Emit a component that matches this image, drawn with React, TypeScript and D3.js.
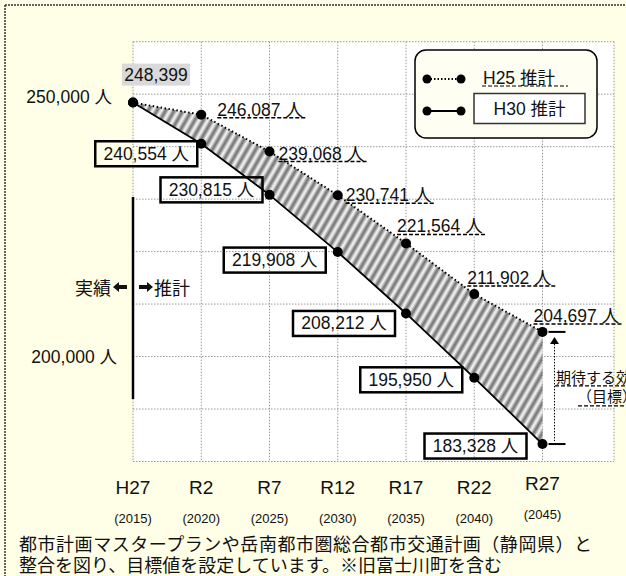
import React from "react";
import * as d3 from "d3";

const years = [2015, 2020, 2025, 2030, 2035, 2040, 2045];
const eraLabels = ["H27", "R2", "R7", "R12", "R17", "R22", "R27"];
const yearLabels = ["(2015)", "(2020)", "(2025)", "(2030)", "(2035)", "(2040)", "(2045)"];
const h25Values = [248399, 246087, 239068, 230741, 221564, 211902, 204697];
const h30Values = [248399, 240554, 230815, 219908, 208212, 195950, 183328];
const yTickValues = [250000, 200000];
const gridValues = [180000, 190000, 200000, 210000, 220000, 230000, 240000, 250000, 260000];
const legendLabels = ["H25 推計", "H30 推計"];
const footerLines = [
  "都市計画マスタープランや岳南都市圏総合都市交通計画（静岡県）と",
  "整合を図り、目標値を設定しています。※旧富士川町を含む",
];
const effectLabels = ["期待する効果", "（目標）"];

// label layout offsets (relative to point)
const h25LabelOffsets: ([number, number] | null)[] = [null, [16, -5], [9, 2], [8, 0], [-9, -17], [-7, -16], [-9, -16]];
const h30BoxOffsets: ([number, number] | null)[] = [null, [-4, 10], [-7, -5], [-12, 8], [-11, 10], [-12, 2], [-16, 2]];

const W = 626;
const H = 576;
const plotLeft = 133;
const plotRight = 614;
const plotTop = 41.7;
const plotBottom = 461.5;
const BG = "#FFFEE6";
const NUM_FONT = "'Liberation Sans', Arial, 'Noto Sans CJK JP', sans-serif";
const JP_FONT = "'Noto Sans CJK JP', 'Liberation Sans', sans-serif";

const fmt = d3.format(",");

export default function App() {
  const x = d3.scaleLinear().domain([2015, 2045]).range([133, 542.5]);
  const y = d3.scaleLinear().domain([180000, 260000]).range([plotBottom, plotTop]);

  const h25Pts = years.map((yr, i) => [x(yr), y(h25Values[i])] as [number, number]);
  const h30Pts = years.map((yr, i) => [x(yr), y(h30Values[i])] as [number, number]);
  const line = d3.line();
  const bandPath = line([...h25Pts, ...h30Pts.slice().reverse()]) + "Z";

  const underlineW = 88;

  const lastX = x(2045);
  const yTop = y(h25Values[6]);
  const yBot = y(h30Values[6]);

  return (
    <svg width={W} height={H} style={{ position: "absolute", left: 0, top: 0, display: "block" }}>
      <defs>
        <linearGradient id="stripeGrad" x1="0" x2="1" y1="0" y2="0">
          <stop offset="0" stopColor="#ffffff" />
          <stop offset="0.5" stopColor="#6a6a6a" />
          <stop offset="1" stopColor="#ffffff" />
        </linearGradient>
        <pattern id="stripes" width="7.5" height="7.5" patternUnits="userSpaceOnUse" patternTransform="rotate(30)">
          <rect width="7.5" height="7.5" fill="url(#stripeGrad)" />
        </pattern>
      </defs>
      <rect x={0} y={0} width={W} height={H} fill={BG} />
      <line x1={5} y1={5} x2={W} y2={5} stroke="#333" strokeWidth={1.5} strokeDasharray="2,1" />
      <line x1={5} y1={5} x2={5} y2={H} stroke="#333" strokeWidth={1.5} strokeDasharray="2,1" />

      {/* plot area */}
      <rect x={plotLeft} y={plotTop} width={plotRight - plotLeft} height={plotBottom - plotTop} fill="#fff" />
      {gridValues.map((v) => (
        <line key={"h" + v} x1={plotLeft} x2={plotRight} y1={y(v)} y2={y(v)} stroke="#999" strokeWidth={1} strokeDasharray="1.5,1.5" />
      ))}
      {years.map((yr) => (
        <line key={"v" + yr} x1={x(yr)} x2={x(yr)} y1={plotTop} y2={plotBottom} stroke="#999" strokeWidth={1} strokeDasharray="1.5,1.5" />
      ))}
      <line x1={plotRight} x2={plotRight} y1={plotTop} y2={plotBottom} stroke="#999" strokeWidth={1} strokeDasharray="1.5,1.5" />

      {/* band */}
      <path d={bandPath} fill="url(#stripes)" />

      {/* actual/forecast divider */}
      <line x1={plotLeft} x2={plotLeft} y1={197} y2={399} stroke="#000" strokeWidth={2.5} />
      <text x={111} y={287} fontFamily={JP_FONT} fontSize={18} textAnchor="end" dominantBaseline="central" fill="#111">実績</text>
      <path d="M113,287 L119,282 L119,285 L127,285 L127,289 L119,289 L119,292 Z" fill="#111" />
      <path d="M153,287 L147,282 L147,285 L139,285 L139,289 L147,289 L147,292 Z" fill="#111" />
      <text x={154} y={287} fontFamily={JP_FONT} fontSize={18} dominantBaseline="central" fill="#111">推計</text>

      {/* lines */}
      <path d={line(h25Pts) || ""} fill="none" stroke="#000" strokeWidth={2} strokeDasharray="1.5,2.5" />
      <path d={line(h30Pts) || ""} fill="none" stroke="#000" strokeWidth={1.8} />
      {h25Pts.map((p, i) => (
        <circle key={"p25" + i} cx={p[0]} cy={p[1]} r={5} fill="#000" />
      ))}
      {h30Pts.map((p, i) => (
        <circle key={"p30" + i} cx={p[0]} cy={p[1]} r={5} fill="#000" />
      ))}

      {/* y-axis labels */}
      {yTickValues.map((v, i) => (
        <text key={"yt" + v} x={i === 0 ? 112 : 117} y={y(v) + (i === 0 ? 3 : 0)} fontFamily={NUM_FONT} fontSize={17.5} textAnchor="end" dominantBaseline="central" fill="#111">
          {fmt(v)} 人
        </text>
      ))}

      {/* start label */}
      <rect x={h25Pts[0][0] - 11} y={h25Pts[0][1] - 39} width={68} height={22} fill="#d9d9d9" />
      <text x={h25Pts[0][0] + 23} y={h25Pts[0][1] - 28} fontFamily={NUM_FONT} fontSize={17.5} textAnchor="middle" dominantBaseline="central" fill="#111">
        {fmt(h25Values[0])}
      </text>

      {/* H25 labels */}
      {h25Pts.map((p, i) => {
        const off = h25LabelOffsets[i];
        if (!off) return null;
        const tx = p[0] + off[0];
        const ty = p[1] + off[1];
        return (
          <g key={"l25" + i}>
            <text x={tx} y={ty} fontFamily={NUM_FONT} fontSize={17.5} dominantBaseline="central" fill="#111">
              {fmt(h25Values[i])} 人
            </text>
            <line x1={tx} x2={tx + underlineW} y1={ty + 8} y2={ty + 8} stroke="#000" strokeWidth={1.5} strokeDasharray="4,2" />
          </g>
        );
      })}

      {/* H30 labels */}
      {h30Pts.map((p, i) => {
        const off = h30BoxOffsets[i];
        if (!off) return null;
        const right = p[0] + off[0];
        const cy = p[1] + off[1];
        const bw = 102;
        const bh = 25;
        return (
          <g key={"l30" + i}>
            <rect x={right - bw} y={cy - bh / 2} width={bw} height={bh} fill="none" stroke="#000" strokeWidth={2.5} />
            <text x={right - bw / 2} y={cy} fontFamily={NUM_FONT} fontSize={17.5} textAnchor="middle" dominantBaseline="central" fill="#111">
              {fmt(h30Values[i])} 人
            </text>
          </g>
        );
      })}

      {/* expected effect bracket */}
      <line x1={lastX + 6} x2={lastX + 23} y1={yTop} y2={yTop} stroke="#000" strokeWidth={2} />
      <line x1={lastX + 6} x2={lastX + 23} y1={yBot} y2={yBot} stroke="#000" strokeWidth={2} />
      <line x1={lastX + 12} x2={lastX + 12} y1={yTop + 12} y2={yBot - 3} stroke="#000" strokeWidth={1} strokeDasharray="1.5,1.5" />
      <path d={`M${lastX + 12},${yTop + 5} L${lastX + 7.5},${yTop + 12} L${lastX + 16.5},${yTop + 12} Z`} fill="#000" />
      <text x={556} y={yTop + 45} fontFamily={JP_FONT} fontSize={15} dominantBaseline="central" fill="#111">{effectLabels[0]}</text>
      <line x1={555} x2={W} y1={yTop + 54} y2={yTop + 54} stroke="#000" strokeWidth={1.2} strokeDasharray="4,2" />
      <text x={577} y={yTop + 64} fontFamily={JP_FONT} fontSize={15} dominantBaseline="central" fill="#111">{effectLabels[1]}</text>
      <line x1={578} x2={W} y1={yTop + 74} y2={yTop + 74} stroke="#000" strokeWidth={1.2} strokeDasharray="4,2" />

      {/* legend */}
      <rect x={415} y={50} width={182} height={88} rx={11} fill="#FFFEF2" stroke="#000" strokeWidth={1.5} />
      <line x1={427} x2={461} y1={79} y2={79} stroke="#000" strokeWidth={2} strokeDasharray="1.5,2" />
      <circle cx={427} cy={79} r={4.5} fill="#000" />
      <circle cx={461} cy={79} r={4.5} fill="#000" />
      <text x={483} y={78} fontFamily={NUM_FONT} fontSize={17.5} dominantBaseline="central" fill="#111">{legendLabels[0]}</text>
      <line x1={482} x2={568} y1={86} y2={86} stroke="#000" strokeWidth={1.2} strokeDasharray="4,2" />
      <line x1={427} x2={461} y1={111} y2={111} stroke="#000" strokeWidth={2} />
      <circle cx={427} cy={111} r={4.5} fill="#000" />
      <circle cx={461} cy={111} r={4.5} fill="#000" />
      <rect x={474} y={93.5} width={111} height={30} fill="#fff" stroke="#333" strokeWidth={1.5} />
      <text x={529.5} y={109} fontFamily={NUM_FONT} fontSize={17.5} textAnchor="middle" dominantBaseline="central" fill="#111">{legendLabels[1]}</text>

      {/* x axis labels */}
      {years.map((yr, i) => (
        <g key={"xl" + yr}>
          <text x={x(yr)} y={i === 6 ? 483 : 487} fontFamily={NUM_FONT} fontSize={19} textAnchor="middle" dominantBaseline="central" fill="#111">
            {eraLabels[i]}
          </text>
          <text x={x(yr)} y={i === 6 ? 514 : 518} fontFamily={NUM_FONT} fontSize={13} textAnchor="middle" dominantBaseline="central" fill="#111">
            {yearLabels[i]}
          </text>
        </g>
      ))}

      {/* footer */}
      <text x={19} y={543} fontFamily={JP_FONT} fontSize={18} dominantBaseline="central" fill="#111" textLength={573} lengthAdjust="spacing">
        {footerLines[0]}
      </text>
      <text x={19} y={564} fontFamily={JP_FONT} fontSize={18} dominantBaseline="central" fill="#111">
        {footerLines[1]}
      </text>
    </svg>
  );
}
